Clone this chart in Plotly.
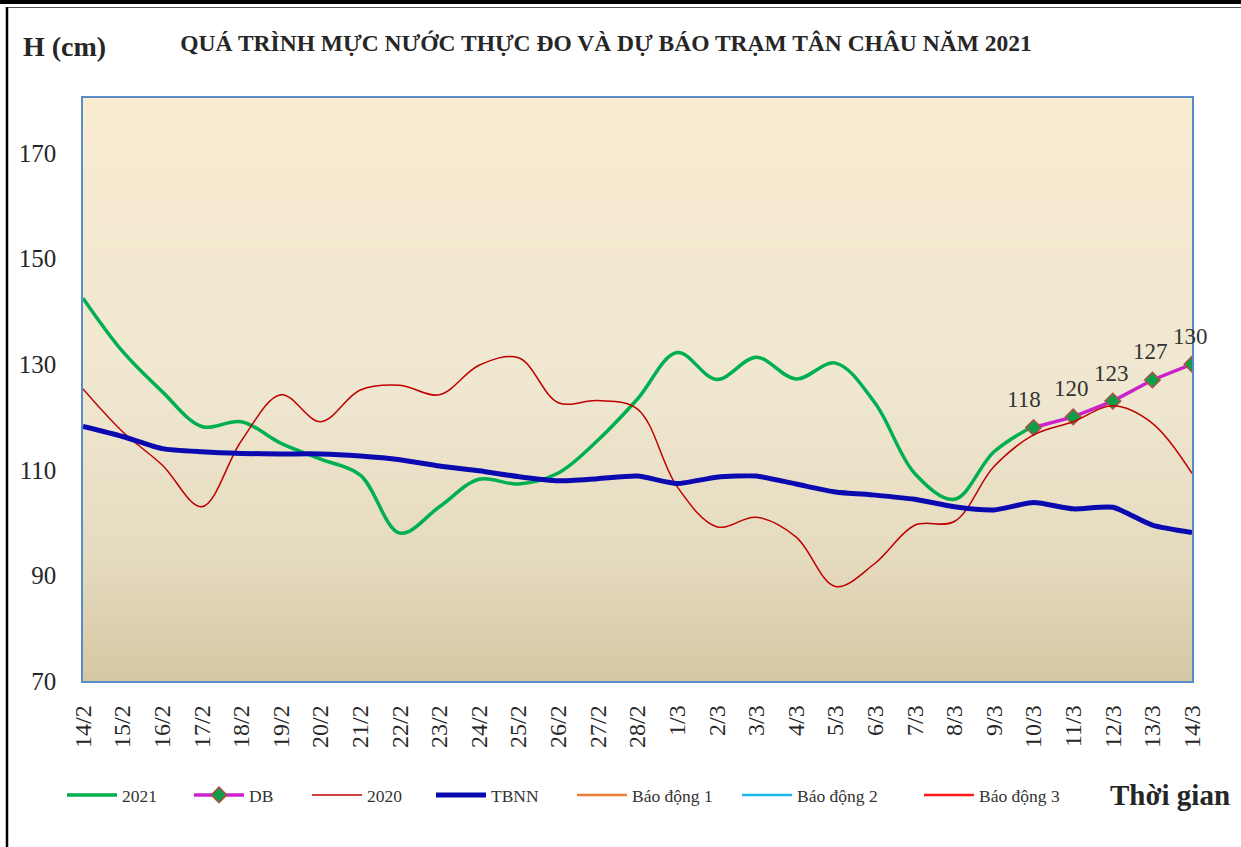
import plotly.graph_objects as go

# ---------------- data ----------------
dates = ["14/2", "15/2", "16/2", "17/2", "18/2", "19/2", "20/2", "21/2", "22/2", "23/2",
         "24/2", "25/2", "26/2", "27/2", "28/2", "1/3", "2/3", "3/3", "4/3", "5/3",
         "6/3", "7/3", "8/3", "9/3", "10/3", "11/3", "12/3", "13/3", "14/3"]

h2021 = [142.5, 132.4, 124.8, 118.2, 119.1, 115.0, 112.0, 109.0, 98.0, 103.0,
         108.2, 107.3, 109.4, 115.6, 123.4, 132.2, 127.1, 131.3, 127.2, 130.2,
         122.6, 109.3, 104.4, 113.4, 118.3]

db_dates = ["10/3", "11/3", "12/3", "13/3", "14/3"]
db_values = [118, 120, 123, 127, 130]

h2020 = [125.3, 117.2, 110.9, 103.0, 115.5, 124.2, 119.1, 125.1, 126.0, 124.2,
         129.8, 131.2, 122.7, 123.1, 121.5, 106.8, 99.2, 101.0, 97.3, 87.9,
         92.3, 99.5, 100.2, 110.6, 116.6, 119.1, 122.1, 118.8, 109.3]

tbnn = [118.2, 116.3, 114.0, 113.4, 113.1, 113.0, 113.0, 112.6, 111.9, 110.7,
        109.8, 108.7, 107.9, 108.3, 108.8, 107.4, 108.6, 108.8, 107.3, 105.8,
        105.2, 104.4, 103.0, 102.4, 103.8, 102.6, 102.9, 99.5, 98.1]

bao_dong_1 = 350
bao_dong_2 = 400
bao_dong_3 = 450

y_ticks = [70, 90, 110, 130, 150, 170]

# ---------------- layout helpers (pixel -> paper) ----------------
W, H = 1241, 847
L, R, T, B = 83, 1192, 98, 681


def px_x(px):
    return (px - L) / (R - L)


def px_y(py):
    return (B - py) / (B - T)


SERIF = "Liberation Serif, Times New Roman, serif"

fig = go.Figure()

fig.add_trace(go.Scatter(x=dates[:len(h2021)], y=h2021, name="2021", mode="lines", legend="legend",
                         line=dict(color="#00B050", width=3.5, shape="spline", smoothing=1.0)))
fig.add_trace(go.Scatter(x=db_dates, y=db_values, name="DB", mode="lines+markers", legend="legend2",
                         line=dict(color="#CC22CC", width=3.5),
                         marker=dict(symbol="diamond", size=12, color="#0E9E4A",
                                     line=dict(color="#B0504A", width=1.5))))
fig.add_trace(go.Scatter(x=dates, y=h2020, name="2020", mode="lines", legend="legend3",
                         line=dict(color="#C00000", width=1.5, shape="spline", smoothing=1.0)))
fig.add_trace(go.Scatter(x=dates, y=tbnn, name="TBNN", mode="lines", legend="legend4",
                         line=dict(color="#0A0AB0", width=5, shape="spline", smoothing=0.6)))
fig.add_trace(go.Scatter(x=dates, y=[bao_dong_1] * len(dates), name="Báo động 1", mode="lines",
                         legend="legend5", line=dict(color="#ED7D31", width=2.5)))
fig.add_trace(go.Scatter(x=dates, y=[bao_dong_2] * len(dates), name="Báo động 2", mode="lines",
                         legend="legend6", line=dict(color="#1CB8F0", width=2.5)))
fig.add_trace(go.Scatter(x=dates, y=[bao_dong_3] * len(dates), name="Báo động 3", mode="lines",
                         legend="legend7", line=dict(color="#FF1A1A", width=2.5)))

# ---------------- gradient background (plot area) ----------------
stops = [(0.0, (0xD5, 0xC7, 0xA3)), (0.2, (0xE4, 0xDA, 0xBE)), (0.5, (0xEF, 0xE7, 0xD0)),
         (1.0, (0xF9, 0xEC, 0xD1))]


def col_at(t):
    for (t0, c0), (t1, c1) in zip(stops[:-1], stops[1:]):
        if t0 <= t <= t1:
            f = (t - t0) / (t1 - t0)
            return "rgb(%d,%d,%d)" % tuple(round(a + (b - a) * f) for a, b in zip(c0, c1))
    return "rgb(%d,%d,%d)" % stops[-1][1]


shapes = []
N = 90
for i in range(N):
    y0 = i / N
    y1 = (i + 1) / N + 0.002
    shapes.append(dict(type="rect", xref="paper", yref="paper", x0=0, x1=1, y0=y0, y1=min(y1, 1),
                       fillcolor=col_at((i + 0.5) / N), line=dict(width=0), layer="below"))

# page frame lines
shapes.append(dict(type="rect", xref="paper", yref="paper", x0=px_x(0), x1=px_x(W),
                   y0=px_y(4), y1=px_y(0), fillcolor="black", line=dict(width=0)))
shapes.append(dict(type="line", xref="paper", yref="paper", x0=px_x(8), x1=px_x(W),
                   y0=px_y(7.5), y1=px_y(7.5), line=dict(color="#555555", width=1)))
shapes.append(dict(type="line", xref="paper", yref="paper", x0=px_x(7), x1=px_x(7),
                   y0=px_y(7), y1=px_y(H), line=dict(color="black", width=2.5)))
shapes.append(dict(type="line", xref="paper", yref="paper", x0=px_x(629), x1=px_x(629),
                   y0=px_y(0), y1=px_y(4), line=dict(color="black", width=1)))

annotations = [
    dict(text="<b>H (cm)</b>", xref="paper", yref="paper", x=px_x(21), y=px_y(46),
         xanchor="left", yanchor="middle", showarrow=False,
         font=dict(family=SERIF, size=28, color="#262626")),
    dict(text="<b>Thời gian</b>", xref="paper", yref="paper", x=px_x(1170), y=px_y(795),
         xanchor="center", yanchor="middle", showarrow=False,
         font=dict(family=SERIF, size=29, color="#262626")),
]
# data labels for forecast points
label_xshift = [-10, -2, -1, -2, -2]
for d, v, xs in zip(db_dates, db_values, label_xshift):
    annotations.append(dict(x=d, y=v, xref="x", yref="y", text=str(v), showarrow=False,
                            yshift=28, xshift=xs, xanchor="center", yanchor="middle",
                            font=dict(family=SERIF, size=23, color="#333333")))

legend_font = dict(family=SERIF, size=17.5, color="#333333")
legend_starts = [68, 195, 313, 437, 578, 743, 925]
legends = {}
for k, sx in enumerate(legend_starts):
    key = "legend" if k == 0 else "legend%d" % (k + 1)
    legends[key] = dict(orientation="h", x=px_x(sx - 6), y=px_y(795), xanchor="left",
                        yanchor="middle", font=legend_font, bgcolor="rgba(0,0,0,0)",
                        itemwidth=50)

fig.update_layout(
    width=W, height=H,
    margin=dict(l=L, r=W - R, t=T, b=H - B),
    paper_bgcolor="white",
    plot_bgcolor="#F0E8D0",
    title=dict(text="<b>QUÁ TRÌNH MỰC NƯỚC THỰC ĐO VÀ DỰ BÁO TRẠM TÂN CHÂU NĂM 2021</b>",
               xref="container", yref="container", x=606 / W, y=1 - 43 / H,
               xanchor="center", yanchor="middle",
               font=dict(family=SERIF, size=23.5, color="#262626")),
    showlegend=True,
    shapes=shapes,
    annotations=annotations,
    xaxis=dict(type="category", categoryorder="array", categoryarray=dates,
               range=[0, len(dates) - 1], tickangle=-90,
               tickfont=dict(family=SERIF, size=24, color="#262626"),
               showline=True, linecolor="#5B8BC8", linewidth=1.5, mirror=True,
               showgrid=False, zeroline=False, ticks="", ticklabelstandoff=13),
    yaxis=dict(range=[70, 180.4], tickvals=y_ticks,
               tickfont=dict(family=SERIF, size=25, color="#262626"),
               showline=True, linecolor="#5B8BC8", linewidth=1.5, mirror=True,
               showgrid=False, zeroline=False, ticks="", ticklabelstandoff=20),
    **legends,
)

fig.write_html("out.html", config={"displayModeBar": False},
               post_script="document.body.style.margin='0';")
